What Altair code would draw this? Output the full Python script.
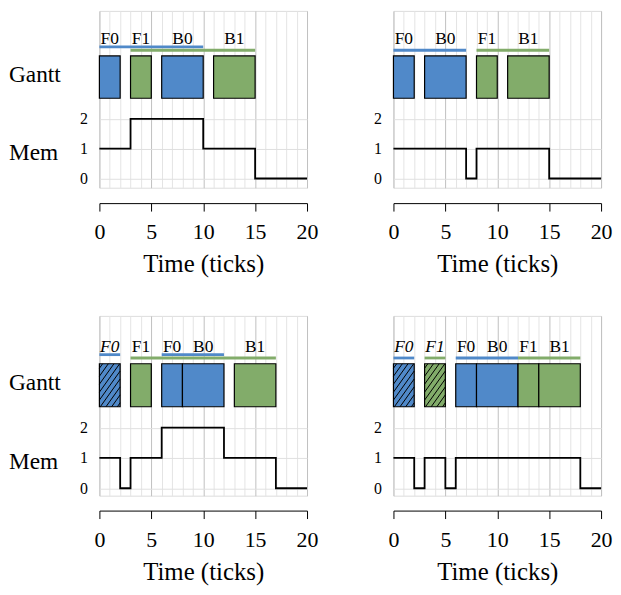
import altair as alt
import pandas as pd

FONT = "Liberation Serif"

# ---------------- data ----------------
# Top-left
TL_task_label = ["F0", "F1", "B0", "B1"]
TL_task_start = [0, 3, 6, 11]
TL_task_end = [2, 5, 10, 15]
TL_task_owner = ["blue", "green", "blue", "green"]
TL_task_hatch = [False, False, False, False]
TL_own_start = [0, 3]
TL_own_end = [10, 15]
TL_own_owner = ["blue", "green"]
TL_own_raised = [True, False]
TL_mem_t = [0, 3, 10, 15, 20]
TL_mem_v = [1, 2, 1, 0, 0]

# Top-right
TR_task_label = ["F0", "B0", "F1", "B1"]
TR_task_start = [0, 3, 8, 11]
TR_task_end = [2, 7, 10, 15]
TR_task_owner = ["blue", "blue", "green", "green"]
TR_task_hatch = [False, False, False, False]
TR_own_start = [0, 8]
TR_own_end = [7, 15]
TR_own_owner = ["blue", "green"]
TR_own_raised = [False, False]
TR_mem_t = [0, 7, 8, 15, 20]
TR_mem_v = [1, 0, 1, 0, 0]

# Bottom-left
BL_task_label = ["F0", "F1", "F0", "B0", "B1"]
BL_task_start = [0, 3, 6, 8, 13]
BL_task_end = [2, 5, 8, 12, 17]
BL_task_owner = ["blue", "green", "blue", "blue", "green"]
BL_task_hatch = [True, False, False, False, False]
BL_own_start = [0, 6, 3]
BL_own_end = [2, 12, 17]
BL_own_owner = ["blue", "blue", "green"]
BL_own_raised = [True, True, False]
BL_mem_t = [0, 2, 3, 6, 12, 17, 20]
BL_mem_v = [1, 0, 1, 2, 1, 0, 0]

# Bottom-right
BR_task_label = ["F0", "F1", "F0", "B0", "F1", "B1"]
BR_task_start = [0, 3, 6, 8, 12, 14]
BR_task_end = [2, 5, 8, 12, 14, 18]
BR_task_owner = ["blue", "green", "blue", "blue", "green", "green"]
BR_task_hatch = [True, True, False, False, False, False]
BR_own_start = [0, 3, 6, 12]
BR_own_end = [2, 5, 12, 18]
BR_own_owner = ["blue", "green", "blue", "green"]
BR_own_raised = [False, False, False, False]
BR_mem_t = [0, 2, 3, 5, 6, 18, 20]
BR_mem_v = [1, 0, 1, 0, 1, 0, 0]

# ---------------- styling ----------------
BAR_COLORS = ["#5089c9", "#82ac6a"]
LINE_COLORS = ["#5b95d8", "#80b26b"]
PLOT_W = 209
BAR_TOP, BAR_BOT = 4.11, 2.69
OWN_Y, OWN_Y_RAISED = 4.30, 4.41
LABEL_Y = 4.50


def x_enc(offset):
    return alt.X(
        "x:Q",
        scale=alt.Scale(domain=[0, 20], nice=False, zero=False),
        axis=alt.Axis(
            values=list(range(21)),
            grid=True,
            gridColor={"condition": {"test": "datum.value % 5 === 0", "value": "#c0c0c0"},
                       "value": "#e4e4e4"},
            gridWidth=1,
            labelExpr="datum.value % 5 === 0 ? datum.label : ''",
            tickOpacity={"condition": {"test": "datum.value % 5 === 0", "value": 1}, "value": 0},
            tickSize=8,
            tickColor="black",
            tickWidth=1,
            domainColor="black",
            domainWidth=1,
            offset=offset,
            labelFont=FONT,
            labelFontSize=22,
            labelColor="black",
            labelPadding=11,
            labelFlush=False,
            labelOverlap=False,
            titleFont=FONT,
            titleFontSize=25,
            titleFontWeight="normal",
            titleColor="black",
            titlePadding=9,
        ),
        title="Time (ticks)",
    )


def y_enc(ymin, ymax):
    return alt.Y(
        "y:Q",
        scale=alt.Scale(domain=[ymin, ymax], nice=False, zero=False),
        axis=alt.Axis(
            values=[0, 1, 2],
            grid=True,
            gridColor="#e0e0e0",
            domain=False,
            ticks=False,
            labelFont=FONT,
            labelFontSize=16,
            labelColor="black",
            labelPadding=12,
            title=None,
        ),
    )


def panel(labels, starts, ends, owners, hatch, own_s, own_e, own_o, own_r,
          mem_t, mem_v, ymin, ymax, height, offset, side):
    px_x = PLOT_W / 20.0
    px_y = height / (ymax - ymin)
    X = lambda: x_enc(offset)
    Y = lambda: y_enc(ymin, ymax)
    color_scale = alt.Scale(domain=["blue", "green"], range=BAR_COLORS)
    line_scale = alt.Scale(domain=["blue", "green"], range=LINE_COLORS)

    tasks = pd.DataFrame({
        "x": starts, "x2": ends, "owner": owners, "hatch": hatch,
        "label": labels,
        "cx": [(a + b) / 2 for a, b in zip(starts, ends)],
    })
    tasks["y"] = BAR_TOP
    tasks["y2"] = BAR_BOT

    layers = []
    layers.append(alt.Chart(tasks).mark_rect(stroke="black", strokeWidth=1.2).encode(
        x=X(), x2="x2:Q", y=Y(), y2="y2:Q",
        color=alt.Color("owner:N", scale=color_scale, legend=None),
    ))

    # hatch lines for hatched tasks ("/" direction), computed in pixel space
    hx, hy, hx2, hy2 = [], [], [], []
    for a, b, h in zip(starts, ends, hatch):
        if not h:
            continue
        x0, x1 = a * px_x, b * px_x
        y0, y1 = (BAR_BOT - ymin) * px_y, (BAR_TOP - ymin) * px_y
        step = 8.0
        slope = 1.4
        c = y0 - slope * x1 + step / 2
        while c < y1 - slope * x0:
            xa = max(x0, (y0 - c) / slope)
            xb = min(x1, (y1 - c) / slope)
            if xb > xa:
                hx.append(xa / px_x)
                hx2.append(xb / px_x)
                hy.append((slope * xa + c) / px_y + ymin)
                hy2.append((slope * xb + c) / px_y + ymin)
            c += step
    if hx:
        hatch_df = pd.DataFrame({"x": hx, "x2": hx2, "y": hy, "y2": hy2})
        layers.append(alt.Chart(hatch_df).mark_rule(color="black", strokeWidth=1).encode(
            x=X(), x2="x2:Q", y=Y(), y2="y2:Q"))

    own = pd.DataFrame({
        "x": own_s, "x2": own_e, "owner": own_o,
        "y": [OWN_Y_RAISED if r else OWN_Y for r in own_r],
    })
    layers.append(alt.Chart(own).mark_rule(strokeWidth=2.8).encode(
        x=X(), x2="x2:Q", y=Y(),
        color=alt.Color("owner:N", scale=line_scale, legend=None),
    ))

    lab = tasks[["cx", "label", "hatch"]].rename(columns={"cx": "x"})
    lab["y"] = LABEL_Y
    normal = lab[~lab["hatch"]]
    italic = lab[lab["hatch"]]
    layers.append(alt.Chart(normal).mark_text(
        font=FONT, fontSize=17.5, baseline="alphabetic", align="center", color="black"
    ).encode(x=X(), y=Y(), text="label:N"))
    if len(italic):
        layers.append(alt.Chart(italic).mark_text(
            font=FONT, fontSize=17.5, fontStyle="italic", baseline="alphabetic",
            align="center", color="black"
        ).encode(x=X(), y=Y(), text="label:N"))

    mem = pd.DataFrame({"x": mem_t, "y": mem_v})
    layers.append(alt.Chart(mem).mark_line(
        interpolate="step-after", color="black", strokeWidth=1.8
    ).encode(x=X(), y=Y()))

    if side:
        side_df = pd.DataFrame({"t": ["Gantt", "Mem"], "y": [3.23, 0.63]})
        layers.append(alt.Chart(side_df).mark_text(
            font=FONT, fontSize=23.5, baseline="alphabetic", align="left", color="black"
        ).encode(x=alt.value(-91), y=Y(), text="t:N"))
    return alt.layer(*layers).properties(width=PLOT_W, height=height)


tl = panel(TL_task_label, TL_task_start, TL_task_end, TL_task_owner, TL_task_hatch,
           TL_own_start, TL_own_end, TL_own_owner, TL_own_raised,
           TL_mem_t, TL_mem_v, -0.31, 5.62, 178, 15.5, True)
tr = panel(TR_task_label, TR_task_start, TR_task_end, TR_task_owner, TR_task_hatch,
           TR_own_start, TR_own_end, TR_own_owner, TR_own_raised,
           TR_mem_t, TR_mem_v, -0.31, 5.62, 178, 15.5, False)
bl = panel(BL_task_label, BL_task_start, BL_task_end, BL_task_owner, BL_task_hatch,
           BL_own_start, BL_own_end, BL_own_owner, BL_own_raised,
           BL_mem_t, BL_mem_v, -0.245, 5.69, 181, 15, True)
br = panel(BR_task_label, BR_task_start, BR_task_end, BR_task_owner, BR_task_hatch,
           BR_own_start, BR_own_end, BR_own_owner, BR_own_raised,
           BR_mem_t, BR_mem_v, -0.245, 5.69, 181, 15, False)

top = alt.hconcat(tl, tr, spacing=54)
bottom = alt.hconcat(bl, br, spacing=54)
chart = alt.vconcat(top, bottom, spacing=38).properties(padding=0).configure_view(
    stroke=None
).configure(background="white")

chart.save("out.html", embed_options={"renderer": "svg", "actions": False})
